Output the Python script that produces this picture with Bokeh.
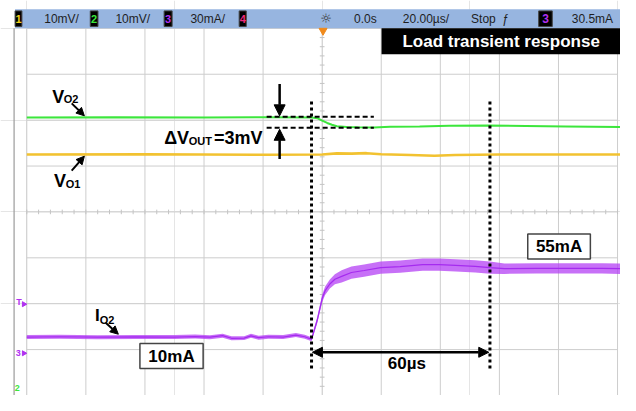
import numpy as np
from bokeh.plotting import figure
from bokeh.models import Range1d, Arrow, NormalHead
from bokeh.core.properties import value
from bokeh.embed import file_html
from bokeh.resources import INLINE

# ---------------- data read from the scope capture ----------------
# time in µs relative to the trigger (20 µs/div)
io2_t = [-100, -89, -76, -63, -50, -43, -38, -33.7, -30.7, -26.4, -24.1, -21.5, -18.2,
         -13.2, -8.9, -5.9, -3.6, -1.7, 0.0, 1.0, 2.6, 4.3, 6.6, 9.9, 14.2, 19.8, 26.4,
         34.0, 39.6, 45.2, 51.8, 56.8, 61.7, 72.6, 83.5, 94.7, 101]
io2_ma = [10.0, 10.2, 9.9, 10.1, 10.0, 10.3, 9.9, 10.9, 9.2, 9.3, 10.8, 9.6, 10.2,
          10.0, 11.3, 10.2, 8.6, 20.8, 35.2, 40.3, 44.7, 47.8, 49.7, 52.2, 53.5, 55.4, 56.0,
          57.3, 57.3, 56.8, 56.2, 55.4, 54.7, 54.9, 54.9, 54.9, 54.7]
io2_ripple = [1.3] * 17 + [2.0, 2.5, 2.8, 3.0, 3.2] + [4.0] * 10 + [3.4] * 5

vo2_t = [-100, -70, -40, -20, -3.6, -1.5, 0.0, 1.7, 3.3, 5.0, 8.3, 12, 17.5, 23, 33, 43, 56, 69, 82.5, 101]
vo2_mv = [0.0, 0.05, 0.0, 0.05, 0.0, -0.2, -0.7, -1.2, -1.6, -1.9, -2.1, -2.15, -2.2, -2.05,
          -1.95, -1.8, -1.75, -1.85, -1.95, -2.1]

vo1_t = [-100, -60, -20, 0, 5, 10, 15, 20, 30, 38, 45, 60, 80, 101]
vo1_mv = [0.0, 0.05, -0.05, 0.0, 0.25, 0.2, 0.3, 0.05, -0.1, -0.25, -0.1, 0.0, 0.0, 0.0]

header_left = ["10mV/", "10mV/", "30mA/"]
header_right = ["0.0s", "20.00µs/", "Stop", "30.5mA"]
channel_tags = ["1", "2", "3", "4"]
tag_colors = ["#f2d21c", "#3ce63c", "#b030f0", "#ee2a7b"]

# ---------------- screen layout ----------------
X_LEFT, X_RIGHT = -108.9, 101.0          # µs
Y_BOTTOM, Y_TOP = -4.0, 4.607            # divisions
CH1_POS, CH2_POS, CH3_GND = 1.2503, 2.0586, -3.06
MV_PER_DIV, MA_PER_DIV = 10.0, 30.0

FONT = value("Liberation Sans")

p = figure(width=620, height=395,
           x_range=Range1d(X_LEFT, X_RIGHT), y_range=Range1d(Y_BOTTOM, Y_TOP),
           x_axis_location=None, y_axis_location=None,
           output_backend="svg", toolbar_location=None, min_border=0,
           outline_line_color=None, background_fill_color="white",
           border_fill_color="white")
p.extra_y_ranges = {
    "ch1": Range1d((Y_BOTTOM - CH1_POS) * MV_PER_DIV, (Y_TOP - CH1_POS) * MV_PER_DIV),
    "ch2": Range1d((Y_BOTTOM - CH2_POS) * MV_PER_DIV, (Y_TOP - CH2_POS) * MV_PER_DIV),
    "ma": Range1d((Y_BOTTOM - CH3_GND) * MA_PER_DIV, (Y_TOP - CH3_GND) * MA_PER_DIV),
}

# graticule
gx = np.arange(-100, 101, 20)
gy = np.arange(-4, 5, 1)
p.segment(x0=gx, y0=-4, x1=gx, y1=4, line_color="#cdcdcd", line_width=1)
p.segment(x0=-100, y0=gy, x1=100, y1=gy, line_color="#cdcdcd", line_width=1)
ty = np.arange(-4, 4.01, 0.2)
p.segment(x0=-0.8, y0=ty, x1=0.8, y1=ty, line_color="#c4c4c4", line_width=1)
tx = np.arange(-100, 100.1, 4)
p.segment(x0=tx, y0=-0.05, x1=tx, y1=0.05, line_color="#c4c4c4", line_width=1)
p.segment(x0=-104.3, y0=-4, x1=-104.3, y1=4.0, line_color="#9a9a9a", line_width=1.2)

# header bar
p.quad(left=-104.0, right=X_RIGHT, bottom=4.0, top=4.419, fill_color="#97b5e0", line_color=None)
tag_l = [-103.96, -78.5, -53.5, -28.1]
tag_r = [-101.65, -75.9, -50.8, -25.7]
p.quad(left=tag_l, right=tag_r, bottom=4.04, top=4.38, fill_color="black", line_color="#444")
p.text(x=[(a + b) / 2 for a, b in zip(tag_l, tag_r)], y=4.205, text=channel_tags,
       text_color=tag_colors, text_align="center", text_baseline="middle",
       text_font=FONT, text_font_style="bold", text_font_size="11px")
p.text(x=[-94.1, -70.0, -44.6], y=4.205, text=header_left, text_color="#1e1e1e",
       text_align="left", text_baseline="middle", text_font=FONT, text_font_size="12px")
p.text(x=[10.8, 27.3, 50.4, 84.5], y=4.205, text=header_right, text_color="#1e1e1e",
       text_align="left", text_baseline="middle", text_font=FONT, text_font_size="12px")
p.text(x=[1.3], y=[4.205], text=["☼"], text_color="#333333", text_align="center",
       text_baseline="middle", text_font=value("DejaVu Sans"), text_font_size="13px")
p.text(x=[61.9], y=[4.205], text=["ƒ"], text_color="#1e1e1e", text_align="center",
       text_baseline="middle", text_font=FONT, text_font_style="italic", text_font_size="12px")
p.quad(left=73.3, right=77.9, bottom=4.04, top=4.38, fill_color="black", line_color="#444")
p.text(x=[75.6], y=[4.205], text=["3"], text_color="#b030f0", text_align="center",
       text_baseline="middle", text_font=FONT, text_font_style="bold", text_font_size="12px")
p.scatter(x=[0.3], y=[3.95], marker="inverted_triangle", size=8, color="#f08a1c")

# title box
p.quad(left=20.1, right=X_RIGHT, bottom=3.435, top=4.0, fill_color="black", line_color=None)
p.text(x=[60.6], y=[3.717], text=["Load transient response"], text_color="white",
       text_align="center", text_baseline="middle", text_font=FONT,
       text_font_style="bold", text_font_size="17px")

# left-side channel markers
p.text(x=[-102.6, -102.9], y=[-1.96, -3.08], text=["T", "3"], text_color="#b030f0",
       text_align="center", text_baseline="middle", text_font=FONT,
       text_font_style="bold", text_font_size="9px")
p.scatter(x=[-101.0, -101.0], y=[-2.01, -3.08], marker="triangle", angle=-np.pi / 2,
          size=5, color="#b030f0")
p.text(x=[-103.2], y=[-3.83], text=["2"], text_color="#3ce63c", text_align="center",
       text_baseline="middle", text_font=FONT, text_font_style="bold", text_font_size="9px")

# traces
p.line(vo1_t, vo1_mv, y_range_name="ch1", line_color="#f2c230", line_width=2.6)
p.line(vo2_t, vo2_mv, y_range_name="ch2", line_color="#3ce63c", line_width=2)
io2_lo = [m - r for m, r in zip(io2_ma, io2_ripple)]
io2_hi = [m + r for m, r in zip(io2_ma, io2_ripple)]
p.varea(x=io2_t, y1=io2_lo, y2=io2_hi, y_range_name="ma", fill_color="#b440f4", fill_alpha=0.75)
p.line(io2_t, io2_ma, y_range_name="ma", line_color="#a52bef", line_width=1.2)

# annotation lines
p.segment(x0=-18.8, y0=[2.073, 1.832], x1=17.5, y1=[2.073, 1.832], line_color="black",
          line_width=2, line_dash="5 3")
p.segment(x0=[-3.6, 56.8], y0=2.408, x1=[-3.6, 56.8], y1=-3.455, line_color="black",
          line_width=3, line_dash="3 3")

def arrow(x0, y0, x1, y1, w=2, s=8, both=False):
    kw = dict(fill_color="black", line_color="black", line_width=1)
    p.add_layout(Arrow(x_start=x0, y_start=y0, x_end=x1, y_end=y1, line_width=w,
                       line_color="black", end=NormalHead(size=s, **kw),
                       start=NormalHead(size=s, **kw) if both else None))

arrow(-84.8, 2.366, -80.5, 2.094)
arrow(-84.8, 0.90, -80.5, 1.215)
arrow(-73.3, -2.414, -69.0, -2.665)
arrow(-14.4, 2.785, -14.4, 2.094, w=2.5, s=11)
arrow(-14.4, 1.152, -14.4, 1.801, w=2.5, s=11)
arrow(-3.3, -3.058, 56.4, -3.058, w=2.5, s=10, both=True)

def txt(x, y, s, size, align="left", baseline="alphabetic", color="black"):
    p.text(x=[x], y=[y], text=[s], text_color=color, text_align=align, text_baseline=baseline,
           text_font=FONT, text_font_style="bold", text_font_size=size)

txt(-91.4, 2.513, "V", "18px"); txt(-87.5, 2.45, "O2", "11px")
txt(-90.8, 0.670, "V", "18px"); txt(-86.8, 0.607, "O1", "11px")
txt(-76.9, -2.262, "I", "17px"); txt(-75.3, -2.345, "O2", "11px")
txt(-53.5, 1.613, "ΔV", "18px"); txt(-45.2, 1.55, "OUT", "11px"); txt(-36.6, 1.613, "=3mV", "18px")

# value boxes
p.quad(left=[-61.7, 69.6], right=[-40.3, 90.8], bottom=[-3.414, -1.026], top=[-2.869, -0.482],
       fill_color="white", line_color="#444444", line_width=1.5)
txt(-51.0, -3.141, "10mA", "17px", align="center", baseline="middle")
txt(80.2, -0.754, "55mA", "17px", align="center", baseline="middle")
txt(28.7, -3.31, "60µs", "17px", align="center", baseline="middle")

open("out.html", "w").write(file_html(p, INLINE))
